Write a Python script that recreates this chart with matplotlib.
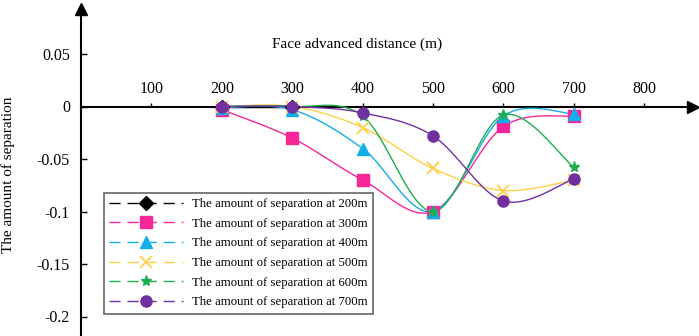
import numpy as np
import matplotlib
matplotlib.use("Agg")
import matplotlib.pyplot as plt
from matplotlib.lines import Line2D

plt.rcParams['font.family'] = ['Liberation Serif', 'DejaVu Serif']
plt.rcParams['axes.unicode_minus'] = False

# ---- data ----
x_200 = [200, 300]
y_200 = [0.0, 0.0]
x_all = [200, 300, 400, 500, 600, 700]
y_300 = [-0.003, -0.030, -0.070, -0.100, -0.019, -0.009]
y_400 = [-0.001, -0.003, -0.040, -0.100, -0.009, -0.007]
y_500 = [0.0, 0.0, -0.020, -0.059, -0.080, -0.070]
y_600 = [0.0, 0.0, -0.009, -0.100, -0.008, -0.058]
y_700 = [0.0, 0.0, -0.006, -0.028, -0.090, -0.069]

series = [
    ("The amount of separation at 200m", x_200, y_200, "#000000", "D", 7),
    ("The amount of separation at 300m", x_all, y_300, "#F7279A", "s", 8),
    ("The amount of separation at 400m", x_all, y_400, "#14AEEA", "^", 9),
    ("The amount of separation at 500m", x_all, y_500, "#FFD045", "x", 8),
    ("The amount of separation at 600m", x_all, y_600, "#1DAF4E", "*", 8),
    ("The amount of separation at 700m", x_all, y_700, "#7030A0", "o", 8),
]
xticks = [100, 200, 300, 400, 500, 600, 700, 800]
yticks = [0.05, 0, -0.05, -0.1, -0.15, -0.2]
ytick_labels = ["0.05", "0", "-0.05", "-0.1", "-0.15", "-0.2"]


def smooth(xs, ys, n=40):
    """Excel-like smoothed line (Catmull-Rom as cubic Bezier)."""
    P = np.column_stack([xs, ys]).astype(float)
    if len(P) < 3:
        return P[:, 0], P[:, 1]
    out = []
    for i in range(len(P) - 1):
        p0 = P[i - 1] if i > 0 else P[i]
        p1, p2 = P[i], P[i + 1]
        p3 = P[i + 2] if i + 2 < len(P) else P[i + 1]
        c1 = p1 + (p2 - p0) / 6.0
        c2 = p2 - (p3 - p1) / 6.0
        t = np.linspace(0, 1, n)[:, None]
        seg = ((1 - t) ** 3) * p1 + 3 * ((1 - t) ** 2) * t * c1 + 3 * (1 - t) * t ** 2 * c2 + t ** 3 * p2
        out.append(seg if i == 0 else seg[1:])
    S = np.vstack(out)
    return S[:, 0], S[:, 1]


W, H = 699, 336
fig = plt.figure(figsize=(W / 100, H / 100), dpi=100)
ax = fig.add_axes([0, 0, 1, 1])
ax.patch.set_alpha(0)

# pixel mapping: x=0 at px 81, 0.704 px per unit; y=0 at px 106.5, 1050 px per unit
x0px, sx = 81.0, 0.704
y0px, sy = 106.5, 1050.0
ax.set_xlim((0 - x0px) / sx, (W - x0px) / sx)
ax.set_ylim((y0px - H) / sy, (y0px - 0) / sy)

for lab, xs, ys, c, m, ms in series:
    sxv, syv = smooth(xs, ys)
    ax.plot(sxv, syv, color=c, lw=1.0, zorder=3)
    kw = dict(markersize=ms, color=c, linestyle='none', zorder=4)
    if m == 'x':
        kw['markeredgewidth'] = 1.3
    ax.plot(xs, ys, marker=m, **kw)

# spines
for s in ['bottom', 'right']:
    ax.spines[s].set_visible(False)
ax.spines['top'].set_position(('data', 0))
ax.spines['left'].set_position(('data', 0))
ax.spines['top'].set_bounds(0, 868)
ax.spines['left'].set_bounds(ax.get_ylim()[0], 0.092)
ax.spines['top'].set_linewidth(1.5)
ax.spines['left'].set_linewidth(1.5)
ax.spines['top'].set_zorder(2)
ax.spines['left'].set_zorder(2)

ax.xaxis.set_ticks_position('top')
ax.set_xticks(xticks)
ax.set_xticklabels([str(v) for v in xticks])
ax.tick_params(axis='x', direction='out', length=3, width=1, labelsize=11.5, pad=4)
ax.set_yticks(yticks)
ax.set_yticklabels(ytick_labels)
ax.tick_params(axis='y', direction='in', length=4, width=1, labelsize=11.5, pad=8)

# arrows
ax.plot([869], [0], marker='>', markersize=9, color='black', clip_on=False, zorder=5)
ax.plot([0], [0.093], marker='^', markersize=9, color='black', clip_on=False, zorder=5)

# labels
fig.text(357 / W, 1 - 44 / H, "Face advanced distance (m)", ha='center', va='center', fontsize=11)
fig.text(8 / W, 1 - 175 / H, "The amount of separation", ha='center', va='center',
         rotation=90, fontsize=11)

# legend
handles = [Line2D([0], [0], color=c, lw=1.0, linestyle=(0, (8, 5)), marker=m, markersize=ms,
                  markeredgewidth=(1.3 if m == 'x' else 1.0))
           for lab, xs, ys, c, m, ms in series]
labels = [s[0] for s in series]
leg = ax.legend(handles, labels, loc='upper left', bbox_to_anchor=(104 / W, 1 - 193 / H),
                bbox_transform=fig.transFigure, frameon=True, fancybox=False,
                fontsize=9.2, handlelength=5.8, handletextpad=0.7, labelspacing=0.6,
                borderpad=0.4, borderaxespad=0)
leg.get_frame().set_edgecolor('#404040')
leg.get_frame().set_linewidth(1.2)
leg.set_zorder(6)

fig.savefig("out.png", dpi=100)
